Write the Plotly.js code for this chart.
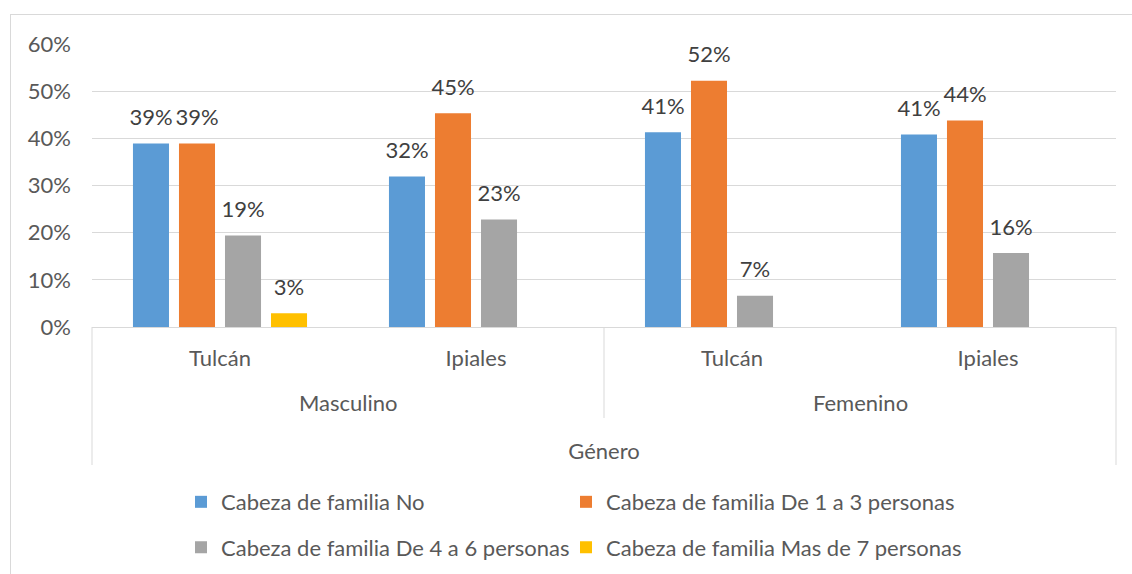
<!DOCTYPE html>
<html>
<head>
<meta charset="utf-8">
<script src="https://cdn.plot.ly/plotly-3.0.1.min.js"></script>
<style>
  html, body { margin: 0; padding: 0; background: #fff; overflow: hidden; }
  #frame { position: absolute; left: 10px; top: 14px; width: 1200px; height: 700px;
           border-left: 1px solid #d9d9d9; border-top: 1px solid #d9d9d9; pointer-events: none; }
  #chart { position: absolute; left: 0; top: 0; width: 1132px; height: 574px; }
</style>
</head>
<body>
<div id="chart"></div>
<div id="frame"></div>
<script>
// ---- data ----
const genders = ["Masculino", "Masculino", "Femenino", "Femenino"];
const cities = ["Tulcán", "Ipiales", "Tulcán", "Ipiales"];
const seriesNames = [
  "Cabeza de familia No",
  "Cabeza de familia De 1 a 3 personas",
  "Cabeza de familia De 4 a 6 personas",
  "Cabeza de familia Mas de 7 personas"
];
const valNo      = [0.389, 0.319, 0.413, 0.408];
const val1a3     = [0.389, 0.453, 0.522, 0.438];
const val4a6     = [0.194, 0.228, 0.066, 0.157];
const valMas7    = [0.029, null, null, null];
const axisTitle = "Género";
const yTickVals = [0, 0.1, 0.2, 0.3, 0.4, 0.5, 0.6];

// ---- styles ----
const colors = ["#5B9BD5", "#ED7D31", "#A5A5A5", "#FFC000"];
const FONT = "Lato, 'Open Sans', sans-serif";
const labelColor = "#595959";

const keys = genders.map((g, i) => g + "|" + cities[i]);
const allVals = [valNo, val1a3, val4a6, valMas7];
const legendIds = ["legend", "legend2", "legend3", "legend4"];

const traces = allVals.map((vals, i) => ({
  type: "bar",
  name: seriesNames[i],
  x: keys,
  y: vals,
  marker: { color: colors[i], line: { width: 0 } },
  texttemplate: '<span style="font-size:22px">%{y:.0%}</span><br><span style="font-size:22px">\u00a0</span>',
  textposition: "outside",
  textfont: { family: FONT, size: 8, color: "#404040" },
  constraintext: "none",
  cliponaxis: false,
  hoverinfo: "skip",
  legend: legendIds[i]
}));

const legendCommon = {
  orientation: "h",
  xref: "container",
  yref: "container",
  xanchor: "left",
  yanchor: "middle",
  font: { family: FONT, size: 22, color: labelColor },
  itemwidth: 30,
  bgcolor: "rgba(0,0,0,0)",
  traceorder: "normal"
};
const colX = [0.1599, 0.5];
const rowY = [0.1254, 0.0462];

const layout = {
  width: 1132,
  height: 574,
  margin: { l: 92, r: 16, t: 44, b: 247 },
  paper_bgcolor: "rgba(0,0,0,0)",
  plot_bgcolor: "rgba(0,0,0,0)",
  barmode: "group",
  bargap: 0.281,
  bargroupgap: 0.217,
  showlegend: true,
  font: { family: FONT, size: 22, color: labelColor },
  xaxis: {
    type: "category",
    tickvals: keys,
    ticktext: cities,
    showgrid: false,
    zeroline: false,
    showline: true,
    linecolor: "#d9d9d9",
    linewidth: 1,
    ticks: "",
    ticklabelstandoff: 12,
    tickfont: { family: FONT, size: 22, color: labelColor },
    title: { text: axisTitle, standoff: 73, font: { family: FONT, size: 22, color: labelColor } },
    fixedrange: true
  },
  yaxis: {
    range: [0, 0.6],
    tickvals: yTickVals,
    tickformat: ".0%",
    showgrid: true,
    gridcolor: "#d9d9d9",
    gridwidth: 1,
    zeroline: false,
    showline: false,
    ticks: "",
    ticklabelstandoff: 20,
    tickfont: { family: FONT, size: 22, color: labelColor },
    fixedrange: true
  },
  legend:  Object.assign({}, legendCommon, { x: colX[0], y: rowY[0] }),
  legend2: Object.assign({}, legendCommon, { x: colX[1], y: rowY[0] }),
  legend3: Object.assign({}, legendCommon, { x: colX[0], y: rowY[1] }),
  legend4: Object.assign({}, legendCommon, { x: colX[1], y: rowY[1] }),
  annotations: [
    { text: genders[0], xref: "paper", yref: "paper", x: 0.25, y: 0, yshift: -75,
      xanchor: "center", yanchor: "middle", showarrow: false,
      font: { family: FONT, size: 22, color: labelColor } },
    { text: genders[2], xref: "paper", yref: "paper", x: 0.75, y: 0, yshift: -75,
      xanchor: "center", yanchor: "middle", showarrow: false,
      font: { family: FONT, size: 22, color: labelColor } }
  ],
  shapes: [
    { type: "line", xref: "paper", yref: "paper", ysizemode: "pixel", yanchor: 0,
      x0: 0, x1: 0, y0: 0, y1: -138, line: { color: "#d9d9d9", width: 1 } },
    { type: "line", xref: "paper", yref: "paper", ysizemode: "pixel", yanchor: 0,
      x0: 0.5, x1: 0.5, y0: 0, y1: -91, line: { color: "#d9d9d9", width: 1 } },
    { type: "line", xref: "paper", yref: "paper", ysizemode: "pixel", yanchor: 0,
      x0: 1, x1: 1, y0: 0, y1: -138, line: { color: "#d9d9d9", width: 1 } }
  ]
};

Plotly.newPlot("chart", traces, layout, { displayModeBar: false, staticPlot: true });
</script>
</body>
</html>
